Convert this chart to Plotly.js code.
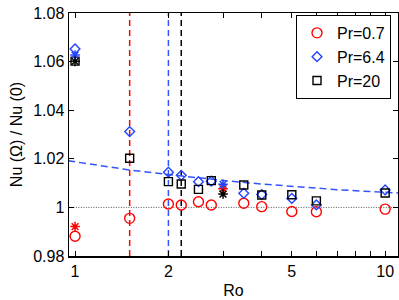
<!DOCTYPE html>
<html>
<head>
<meta charset="utf-8">
<script src="https://cdn.plot.ly/plotly-3.0.1.min.js"></script>
<style>html,body{margin:0;padding:0;background:#fff;}#chart{width:399px;height:300px;}</style>
</head>
<body>
<div id="chart"></div>
<script>
// Data
const roPr07 = [1, 1.5, 2, 2.2, 2.5, 2.75, 3.5, 4, 5, 6, 10];
const nuPr07 = [0.9881, 0.9955, 1.0014, 1.0010, 1.0023, 1.0010, 1.0017, 1.0003, 0.9983, 0.9982, 0.9993];
const roPr64 = [1, 1.5, 2, 2.2, 2.5, 2.75, 3.5, 4, 5, 6, 10];
const nuPr64 = [1.0652, 1.0312, 1.0145, 1.0132, 1.0106, 1.0108, 1.0058, 1.0053, 1.0037, 1.0010, 1.0072];
const roPr20 = [1, 1.5, 2, 2.2, 2.5, 2.75, 3.5, 4, 5, 6, 10];
const nuPr20 = [1.0602, 1.0202, 1.0106, 1.0096, 1.0074, 1.0110, 1.0092, 1.0051, 1.0052, 1.0027, 1.0059];
// asterisk points
const roStarRed = [1, 3];
const nuStarRed = [0.9921, 1.0077];
const roStarBlue = [1, 3];
const nuStarBlue = [1.0627, 1.0095];
const roStarBlack = [1, 3];
const nuStarBlack = [1.0601, 1.0055];
// critical Ro lines
const critRo = [1.5, 2, 2.2];
const critColors = ['#ff0000', '#3355ff', '#000000'];
// blue dashed curve
const fitRo = [0.95, 1.2, 1.5, 2, 2.5, 3, 4, 5, 7, 9, 11.2];
const fitNu = [1.0192, 1.0171, 1.0154, 1.0135, 1.0121, 1.0111, 1.0096, 1.0086, 1.0073, 1.0065, 1.0059];
const yRange = [0.98, 1.08];
const xTicks = [1, 2, 3, 4, 5, 6, 7, 8, 9, 10];
const xTickText = ['1', '2', '', '', '5', '', '', '', '', '10'];
const yTicks = [0.98, 1.0, 1.02, 1.04, 1.06, 1.08];
const yTickText = ['0.98', '1', '1.02', '1.04', '1.06', '1.08'];

const traces = [];
critRo.forEach((r, i) => {
  traces.push({x: [r, r], y: yRange, mode: 'lines', showlegend: false, hoverinfo: 'skip',
    line: {color: critColors[i], width: 1.5, dash: '6px,4px'}});
});
traces.push({x: [0.9, 12], y: [1, 1], mode: 'lines', showlegend: false,
  line: {color: '#555', width: 1, dash: '1px,1.5px'}});
traces.push({x: fitRo, y: fitNu, mode: 'lines', showlegend: false,
  line: {color: '#3355ff', width: 1.5, dash: '7px,4px'}});
traces.push({x: roPr07, y: nuPr07, mode: 'markers', name: 'Pr=0.7',
  marker: {symbol: 'circle-open', size: 10, color: '#ff0000', line: {width: 1.4}}});
traces.push({x: roPr64, y: nuPr64, mode: 'markers', name: 'Pr=6.4',
  marker: {symbol: 'diamond-open', size: 7.5, color: '#2244ff', line: {width: 1.4}}});
traces.push({x: roPr20, y: nuPr20, mode: 'markers', name: 'Pr=20',
  marker: {symbol: 'square-open', size: 8, color: '#000000', line: {width: 1.4}}});
traces.push({x: roStarRed, y: nuStarRed, mode: 'markers', showlegend: false,
  marker: {symbol: 'asterisk-open', size: 8, color: '#ff0000', line: {width: 1.5, color: '#ff0000'}}});
traces.push({x: roStarBlue, y: nuStarBlue, mode: 'markers', showlegend: false,
  marker: {symbol: 'asterisk-open', size: 8, color: '#2244ff', line: {width: 1.5, color: '#2244ff'}}});
traces.push({x: roStarBlack, y: nuStarBlack, mode: 'markers', showlegend: false,
  marker: {symbol: 'asterisk-open', size: 8, color: '#000000', line: {width: 1.5, color: '#000000'}}});

const font = {family: 'Liberation Sans, Arial, sans-serif', size: 16, color: '#000'};
const layout = {
  width: 399, height: 300,
  margin: {l: 69, r: 1, t: 13, b: 44},
  paper_bgcolor: '#fff', plot_bgcolor: '#fff',
  font: font,
  showlegend: true,
  legend: {x: 0.69, y: 0.992, xanchor: 'left', yanchor: 'top', bgcolor: '#fff',
    bordercolor: '#000', borderwidth: 1, font: {family: font.family, size: 16, color: '#000'},
    tracegroupgap: 0, itemwidth: 30},
  xaxis: {type: 'log', range: [Math.log10(0.956), Math.log10(11.0)],
    tickvals: xTicks, ticktext: xTickText, ticks: 'inside', ticklen: 5, tickcolor: '#000',
    showline: true, linecolor: '#000', linewidth: 1.5, mirror: 'ticks', showgrid: false, zeroline: false,
    title: {text: 'Ro', font: {size: 16}, standoff: 6}, tickfont: {size: 16}},
  yaxis: {range: yRange, tickvals: yTicks, ticktext: yTickText, ticks: 'inside', ticklen: 5, tickcolor: '#000',
    showline: true, linecolor: '#000', linewidth: 1.5, mirror: 'ticks', showgrid: false, zeroline: false,
    title: {text: 'Nu (Ω) / Nu (0)', font: {size: 16}, standoff: 6}, tickfont: {size: 16}}
};
Plotly.newPlot('chart', traces, layout, {staticPlot: true, displayModeBar: false});
</script>
</body>
</html>
